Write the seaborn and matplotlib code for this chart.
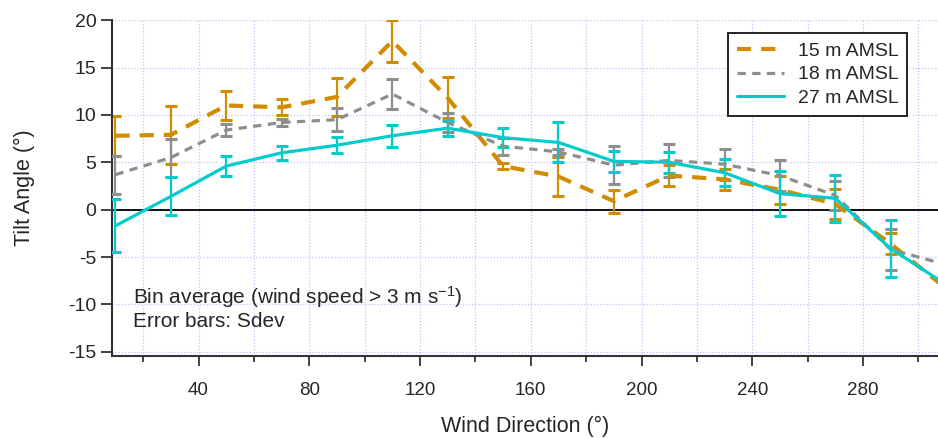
import numpy as np
import pandas as pd
import matplotlib
matplotlib.use("Agg")
import matplotlib.pyplot as plt
from matplotlib.ticker import MultipleLocator
import seaborn as sns

# Bin-averaged tilt angle per 20-degree wind direction bin, three measurement heights
wind_dir = [10, 30, 50, 70, 90, 110, 130, 150, 170, 190, 210, 230, 250, 270, 290, 310]

tilt_15 = [7.8, 7.9, 11.0, 10.8, 11.9, 17.8, 11.8, 4.6, 3.5, 0.9, 3.6, 3.2, 2.1, 0.6, -3.6, -8.3]
sd_15 = [2.1, 3.05, 1.55, 0.85, 2.0, 2.2, 2.15, 0.35, 2.05, 1.2, 1.1, 1.1, 1.5, 1.6, 1.1, 1.0]

tilt_18 = [3.7, 5.5, 8.4, 9.2, 9.5, 12.2, 9.2, 6.7, 6.1, 4.7, 5.2, 4.8, 3.6, 1.5, -4.2, -5.8]
sd_18 = [2.0, 2.0, 0.6, 0.35, 1.25, 1.55, 1.0, 0.9, 0.3, 2.0, 1.7, 1.65, 1.6, 1.5, 2.15, 1.0]

tilt_27 = [-1.7, 1.4, 4.6, 6.0, 6.8, 7.8, 8.6, 7.6, 7.1, 5.1, 5.0, 3.9, 1.7, 1.2, -4.1, -7.9]
sd_27 = [2.8, 2.0, 1.07, 0.74, 0.83, 1.15, 0.8, 1.0, 2.1, 1.1, 1.1, 1.45, 2.35, 2.45, 3.0, 1.0]

heights = ["15 m AMSL", "18 m AMSL", "27 m AMSL"]
colors = {"15 m AMSL": "#D28C00", "18 m AMSL": "#8E8E8E", "27 m AMSL": "#00CCCC"}
dashes = {"15 m AMSL": (3.4, 2.4), "18 m AMSL": (2.6, 2.0), "27 m AMSL": ""}
widths = {"15 m AMSL": 3.0, "18 m AMSL": 2.3, "27 m AMSL": 2.3}

means = {"15 m AMSL": tilt_15, "18 m AMSL": tilt_18, "27 m AMSL": tilt_27}
sdevs = {"15 m AMSL": sd_15, "18 m AMSL": sd_18, "27 m AMSL": sd_27}

df = pd.concat(
    [pd.DataFrame({"Wind Direction": wind_dir, "Tilt": means[h], "Sdev": sdevs[h], "Height": h})
     for h in heights],
    ignore_index=True,
)

sns.set_theme(style="white")
plt.rcParams["font.family"] = ["Liberation Sans", "DejaVu Sans"]
plt.rcParams["mathtext.fontset"] = "custom"
plt.rcParams["mathtext.rm"] = "Liberation Sans"
plt.rcParams["mathtext.default"] = "regular"
plt.rcParams["axes.unicode_minus"] = False

fig = plt.figure(figsize=(9.38, 4.38), dpi=100)
ax = fig.add_axes([0.119, 0.187, 0.881, 0.767])

# grid and zero reference line
ax.set_axisbelow(True)
ax.grid(True, which="both", color="#c4c4f4", linestyle=(0, (1, 1.5)), linewidth=0.9)
ax.axhline(0, color="black", linewidth=1.3, zorder=1.5)

# standard deviation bars
for i, h in enumerate(heights):
    sub = df[df["Height"] == h]
    ax.errorbar(sub["Wind Direction"], sub["Tilt"], yerr=sub["Sdev"], fmt="none",
                ecolor=colors[h], elinewidth=1.6, capsize=4.3, capthick=2.2,
                zorder=2 + i)

sns.lineplot(data=df, x="Wind Direction", y="Tilt", hue="Height", style="Height",
             size="Height", hue_order=heights, style_order=heights, size_order=heights,
             palette=colors, dashes=dashes, sizes=widths, errorbar=None, ax=ax,
             zorder=6)

ax.set_xlim(8.6, 307.1)
ax.set_ylim(-15.45, 20.0)
ax.xaxis.set_major_locator(MultipleLocator(40))
ax.xaxis.set_minor_locator(MultipleLocator(20))
ax.yaxis.set_major_locator(MultipleLocator(5))

ax.tick_params(axis="x", which="major", direction="out", length=7, width=1.2,
               labelsize=13.5, color="#222222", pad=12, bottom=True)
ax.tick_params(axis="x", which="minor", direction="out", length=4.5, width=1.2,
               color="#222222", bottom=True)
ax.tick_params(axis="y", which="major", direction="out", length=8, width=1.2,
               labelsize=14, color="#222222", pad=3, left=True)

for side in ("top", "right"):
    ax.spines[side].set_visible(False)
for side in ("left", "bottom"):
    ax.spines[side].set_color("#333333")
    ax.spines[side].set_linewidth(1.5)

ax.set_xlabel("Wind Direction (°)", fontsize=15.5, labelpad=12)
ax.set_ylabel("Tilt Angle (°)", fontsize=15.5, labelpad=24)

handles, labels = ax.get_legend_handles_labels()
leg = ax.legend(handles, labels, loc="upper right", bbox_to_anchor=(0.9625, 0.961),
                borderaxespad=0, fontsize=14, handlelength=2.4, handletextpad=0.7,
                labelspacing=0.32, borderpad=0.45, frameon=True, fancybox=False,
                edgecolor="#222222", framealpha=1)
leg.get_frame().set_linewidth(1.4)

ax.text(0.026, 0.176, "Bin average (wind speed > 3 m s$^{-1}$)", transform=ax.transAxes,
        fontsize=15, va="center", ha="left")
ax.text(0.026, 0.104, "Error bars: Sdev", transform=ax.transAxes,
        fontsize=15, va="center", ha="left")

fig.savefig("out.png", dpi=100)
